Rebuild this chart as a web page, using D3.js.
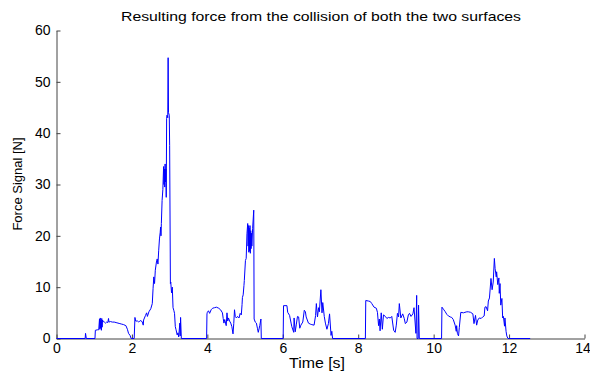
<!DOCTYPE html>
<html>
<head>
<meta charset="utf-8">
<script src="https://cdn.jsdelivr.net/npm/d3@7"></script>
<style>
  html, body { margin: 0; padding: 0; background: #fff; }
  svg { display: block; }
  text { font-family: "Liberation Sans", Arial, Helvetica, sans-serif; fill: #000; }
</style>
</head>
<body>
<script>
// ---- data ----
const title = "Resulting force from the collision of both the two surfaces";
const xLabel = "Time [s]";
const yLabel = "Force Signal [N]";
const xTicks = [0, 2, 4, 6, 8, 10, 12, 14];
const yTicks = [0, 10, 20, 30, 40, 50, 60];

const time = [
  0, 0.76, 0.77, 0.79, 1.02, 1.03, 1.09, 1.12, 1.14, 1.15,
  1.16, 1.17, 1.18, 1.19, 1.20, 1.21, 1.22, 1.24, 1.27, 1.30,
  1.33, 1.36, 1.38, 1.39, 1.43, 1.48, 1.53, 1.58, 1.63, 1.68,
  1.73, 1.78, 1.84, 1.88, 1.91, 1.95, 1.98, 2.06, 2.08, 2.10,
  2.15, 2.18, 2.22, 2.27, 2.30, 2.31, 2.36, 2.39, 2.41, 2.45,
  2.50, 2.54, 2.56, 2.58, 2.60, 2.62, 2.65, 2.67, 2.69, 2.71,
  2.73, 2.75, 2.76, 2.77, 2.78, 2.80, 2.82, 2.84, 2.85, 2.86,
  2.87, 2.88, 2.89, 2.90, 2.91, 2.92, 2.93, 2.95, 2.96, 2.97,
  2.99, 3.00, 3.02, 3.03, 3.05, 3.07, 3.09, 3.11, 3.13, 3.15,
  3.17, 3.20, 3.22, 3.24, 3.27, 3.28, 3.29, 3.31, 3.98, 3.99,
  4.00, 4.03, 4.06, 4.10, 4.14, 4.19, 4.24, 4.30, 4.35, 4.40,
  4.42, 4.44, 4.46, 4.50, 4.52, 4.54, 4.56, 4.59, 4.62, 4.65,
  4.68, 4.70, 4.72, 4.74, 4.77, 4.80, 4.84, 4.87, 4.90, 4.92,
  4.93, 4.95, 4.97, 4.98, 5.01, 5.03, 5.05, 5.07, 5.08, 5.09,
  5.10, 5.11, 5.12, 5.13, 5.14, 5.15, 5.16, 5.17, 5.18, 5.20,
  5.23, 5.24, 5.27, 5.30, 5.33, 5.35, 5.39, 5.42, 5.43, 6.01,
  6.02, 6.11, 6.13, 6.18, 6.22, 6.24, 6.29, 6.30, 6.33, 6.36,
  6.39, 6.42, 6.45, 6.48, 6.53, 6.57, 6.60, 6.62, 6.68, 6.73,
  6.77, 6.83, 6.87, 6.89, 6.92, 6.95, 6.97, 7.01, 7.04, 7.06,
  7.10, 7.13, 7.17, 7.21, 7.24, 7.28, 7.30, 7.32, 8.19, 8.20,
  8.27, 8.32, 8.36, 8.42, 8.48, 8.51, 8.54, 8.56, 8.58, 8.61,
  8.64, 8.67, 8.72, 8.76, 8.80, 8.85, 8.89, 8.94, 8.98, 9.01,
  9.04, 9.07, 9.09, 9.13, 9.18, 9.22, 9.25, 9.29, 9.33, 9.36,
  9.40, 9.45, 9.48, 9.53, 9.55, 9.56, 9.59, 9.60, 9.62, 10.21,
  10.22, 10.26, 10.30, 10.35, 10.39, 10.44, 10.48, 10.52, 10.57, 10.60,
  10.61, 10.63, 10.66, 10.68, 10.72, 10.79, 10.83, 10.88, 10.92, 10.98,
  11.04, 11.07, 11.11, 11.14, 11.17, 11.21, 11.26, 11.30, 11.34, 11.36,
  11.39, 11.43, 11.45, 11.48, 11.52, 11.55, 11.58, 11.61, 11.63, 11.66,
  11.67, 11.70, 11.73, 11.74, 11.76, 11.78, 11.81, 11.83, 11.85, 11.88,
  11.89, 11.92, 11.94, 11.97, 12.56
];

const force = [
  0, 0, 1.0, 0, 0, 1.6, 1.7, 1.7, 3.8, 1.8,
  4.0, 2.0, 3.5, 1.6, 3.9, 2.2, 3.6, 3.3, 3.2, 3.0,
  3.2, 3.1, 3.9, 3.2, 3.3, 3.2, 3.2, 3.1, 3.0, 2.9,
  2.8, 2.7, 2.5, 1.8, 1.0, 0.6, 0, 0, 4.1, 3.4,
  3.4, 3.2, 3.5, 3.3, 2.6, 3.6, 4.5, 5.0, 4.3, 5.2,
  5.8, 6.8, 9.7, 12.0, 10.7, 13.3, 14.9, 15.5, 14.5, 17.2,
  19.4, 20.7, 21.7, 20.0, 22.4, 26.9, 29.0, 33.5, 30.0, 33.0,
  29.5, 34.0, 30.5, 33.0, 27.5, 42.9, 43.5, 43.0, 54.7, 44.0,
  43.5, 37.6, 10.7, 11.0, 8.9, 10.0, 6.0, 5.5, 4.9, 2.3,
  1.7, 0.7, 1.1, 0.3, 3.0, 0.5, 4.1, 0, 0, 4.8,
  5.1, 5.4, 4.9, 5.6, 5.9, 6.0, 6.1, 5.9, 5.6, 5.0,
  3.9, 3.0, 3.7, 2.5, 5.0, 3.4, 4.0, 3.4, 3.0, 2.3,
  0.9, 2.9, 5.6, 4.3, 4.0, 4.3, 4.0, 4.9, 4.6, 6.6,
  8.0, 8.5, 10.3, 11.3, 15.2, 15.6, 20.4, 22.4, 18.0, 22.0,
  16.8, 21.5, 17.0, 22.0, 16.6, 21.0, 17.5, 20.5, 18.0, 21.4,
  25.0, 3.8, 3.2, 3.0, 1.9, 1.2, 2.5, 3.8, 0, 0,
  6.4, 6.4, 5.1, 4.5, 3.0, 2.3, 1.2, 4.0, 1.3, 2.8,
  4.3, 4.2, 2.0, 2.6, 3.2, 5.5, 5.2, 4.2, 3.0, 2.8,
  2.7, 2.6, 4.5, 6.8, 4.2, 6.0, 5.2, 9.5, 5.0, 7.0,
  4.3, 3.0, 1.8, 2.9, 4.8, 0.6, 1.4, 0, 0, 7.4,
  7.3, 7.2, 6.8, 6.1, 5.9, 5.1, 2.5, 3.8, 1.5, 5.0,
  1.8, 4.6, 4.3, 3.9, 4.1, 4.0, 4.3, 1.6, 1.2, 2.6,
  4.9, 4.2, 6.8, 4.0, 4.8, 3.9, 2.9, 3.2, 4.6, 4.9,
  4.3, 4.8, 6.0, 1.0, 8.4, 0, 0, 6.5, 0, 0,
  6.1, 5.7, 5.3, 4.7, 4.4, 4.2, 4.1, 3.7, 2.6, 1.4,
  2.5, 1.0, 0.5, 2.1, 5.1, 5.0, 5.1, 5.2, 5.2, 5.1,
  4.8, 2.9, 4.5, 2.6, 3.6, 4.0, 3.9, 4.2, 4.4, 6.1,
  6.2, 5.4, 7.3, 7.9, 11.7, 9.5, 11.0, 15.6, 13.6, 12.0,
  13.0, 10.5, 11.8, 8.8, 10.7, 6.5, 7.8, 4.0, 4.3, 2.4,
  4.0, 1.4, 0.5, 0, 0
];

// ---- layout ----
const W = 590, H = 372;
const margin = { left: 56, top: 30, right: 6, bottom: 34 };
const iw = W - margin.left - margin.right;   // 528
const ih = H - margin.top - margin.bottom;   // 308

const svg = d3.select("body").append("svg").attr("width", W).attr("height", H);
const g = svg.append("g").attr("transform", `translate(${margin.left + 0.5},${margin.top + 0.5})`);

const x = d3.scaleLinear().domain([0, 14]).range([0, iw]);
const y = d3.scaleLinear().domain([0, 60]).range([ih, 0]);

const axisColor = "#444";

// x axis (ticks pointing inward)
const xAxis = g.append("g").attr("transform", `translate(0,${ih})`)
  .call(d3.axisBottom(x).tickValues(xTicks).tickSizeInner(-4).tickSizeOuter(0).tickPadding(5));
// y axis
const yAxis = g.append("g")
  .call(d3.axisLeft(y).tickValues(yTicks).tickSizeInner(-4).tickSizeOuter(0).tickPadding(6));

[xAxis, yAxis].forEach(a => {
  a.select(".domain").attr("stroke", axisColor);
  a.selectAll(".tick line").attr("stroke", axisColor);
  a.selectAll(".tick text").attr("font-size", 14).attr("fill", "#000")
    .style("font-family", '"Liberation Sans", Arial, sans-serif');
});
// keep the last x tick label inside the picture
xAxis.selectAll(".tick text").filter(d => d === 14).attr("dx", -2);

// data line
const pts = time.map((t, i) => [t, force[i]]);
g.append("path")
  .datum(pts)
  .attr("fill", "none")
  .attr("stroke", "#0000ff")
  .attr("stroke-width", 1)
  .attr("stroke-linejoin", "miter")
  .attr("d", d3.line().x(d => x(d[0])).y(d => y(d[1])));

// title
svg.append("text")
  .attr("x", 321).attr("y", 21)
  .attr("text-anchor", "middle").attr("font-size", 13)
  .attr("textLength", 400).attr("lengthAdjust", "spacingAndGlyphs")
  .text(title);

// x label
svg.append("text")
  .attr("x", 317).attr("y", 368)
  .attr("text-anchor", "middle").attr("font-size", 14)
  .attr("textLength", 56).attr("lengthAdjust", "spacingAndGlyphs")
  .text(xLabel);

// y label
svg.append("text")
  .attr("transform", `translate(22,${margin.top + ih / 2}) rotate(-90)`)
  .attr("text-anchor", "middle").attr("font-size", 13)
  .text(yLabel);
</script>
</body>
</html>
